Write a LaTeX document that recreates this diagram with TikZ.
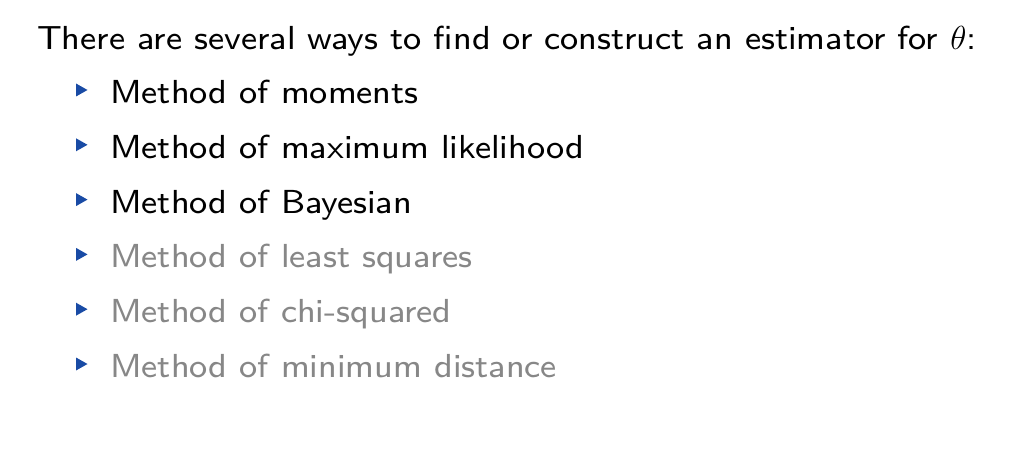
\RequirePackage{fix-cm}
\documentclass[tikz,border=0pt]{standalone}
\usepackage{fontspec}
\setsansfont{lmsans8-regular.otf}[FakeStretch=1.025]
\definecolor{bulletblue}{RGB}{25,75,165}
\definecolor{covered}{RGB}{135,135,135}
\begin{document}
\begin{tikzpicture}[x=1pt,y=-1pt,
  txt/.style={anchor=base west,inner sep=0pt,font=\sffamily\fontsize{33.3}{40}\selectfont},
  item/.style={txt},
  dim/.style={txt,text=covered},
  bullet/.style={fill=bulletblue}]
\useasboundingbox[fill=white] (0,0) rectangle (1016,465);
\node[txt] (head) at (37,50) {There are several ways to find or construct an estimator for $\theta$:};
\foreach \i/\t/\s in {1/Method of moments/item,2/Method of maximum likelihood/item,3/Method of Bayesian/item,4/Method of least squares/dim,5/Method of chi-squared/dim,6/Method of minimum distance/dim}{
  \pgfmathsetmacro{\yy}{103.5+(\i-1)*54.8}
  \node[\s] (it\i) at (110,\yy) {\t};
  \fill[bullet] (76,\yy-20) -- (87.5,\yy-13.5) -- (76,\yy-7) -- cycle;
}
\end{tikzpicture}
\end{document}
